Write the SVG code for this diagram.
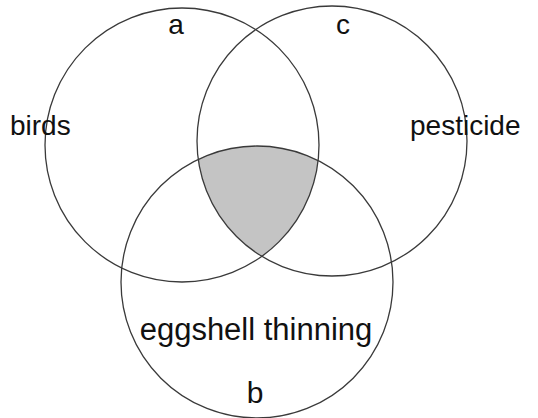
<svg xmlns="http://www.w3.org/2000/svg" width="538" height="418" viewBox="0 0 538 418">
<style>
.ring{fill:none;stroke:#3a3a3a;stroke-width:1.3}
.lbl{font-family:"Liberation Sans",Arial,sans-serif;font-size:28px;fill:#111}
</style>
<defs>
<clipPath id="clipC"><circle cx="332" cy="141" r="135"/></clipPath>
<clipPath id="clipB"><circle cx="257" cy="282" r="136"/></clipPath>
</defs>
<rect width="538" height="418" fill="#fff"/>
<g id="overlap" clip-path="url(#clipC)"><circle cx="182" cy="145" r="137" fill="#c4c4c4" clip-path="url(#clipB)"/></g>
<g id="set-a"><circle class="ring" cx="182" cy="145" r="137"/><text class="lbl" x="176" y="34" text-anchor="middle">a</text><text class="lbl" x="10" y="135">birds</text></g>
<g id="set-c"><circle class="ring" cx="332" cy="141" r="135"/><text class="lbl" x="343" y="34" text-anchor="middle">c</text><text class="lbl" x="410" y="135">pesticide</text></g>
<g id="set-b"><circle class="ring" cx="257" cy="282" r="136"/><text class="lbl" x="256" y="340" text-anchor="middle" style="font-size:31px">eggshell thinning</text><text class="lbl" x="255" y="403" text-anchor="middle" style="font-size:30px">b</text></g>
</svg>
